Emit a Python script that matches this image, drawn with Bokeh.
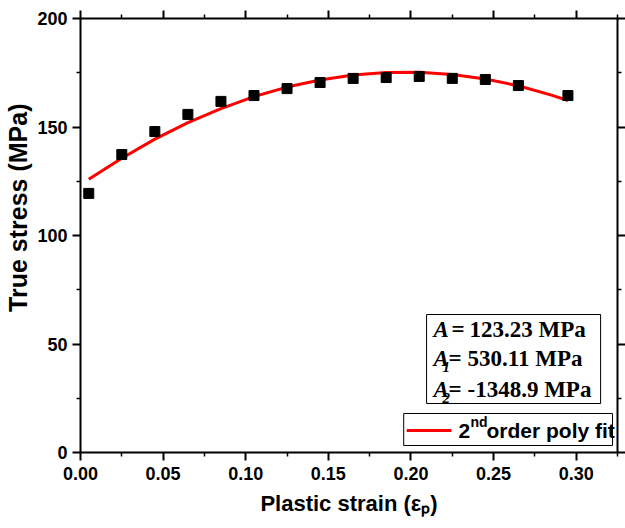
from bokeh.plotting import figure
from bokeh.models import LinearAxis, Label, Range1d, FixedTicker, NumeralTickFormatter
from bokeh.embed import file_html
from bokeh.resources import INLINE

# ---- data ----
strain = [0.005, 0.025, 0.045, 0.065, 0.085, 0.105, 0.125, 0.145, 0.165,
          0.185, 0.205, 0.225, 0.245, 0.265, 0.295]
stress = [119.4, 137.3, 147.9, 155.8, 161.8, 164.5, 167.7, 170.5, 172.4,
          172.8, 173.3, 172.4, 171.9, 169.1, 164.5]
fit_strain = [0.005, 0.025, 0.045, 0.065, 0.085, 0.105, 0.125, 0.145, 0.165,
              0.185, 0.205, 0.225, 0.245, 0.265, 0.285, 0.295]
fit_stress = [125.9, 135.6, 144.4, 152.0, 158.5, 164.0, 168.4, 171.7, 174.0,
              175.1, 175.2, 174.2, 172.1, 169.0, 164.7, 162.2]
x_ticks = [0.00, 0.05, 0.10, 0.15, 0.20, 0.25, 0.30]
x_minor = [0.025, 0.075, 0.125, 0.175, 0.225, 0.275, 0.325]
y_ticks = [0, 50, 100, 150, 200]
y_minor = [25, 75, 125, 175]
param_values = ["123.23 MPa", "530.11 MPa", "-1348.9 MPa"]
param_subs = ["", "1", "2"]
x_title = "Plastic strain (\u03b5\u209a)"
y_title = "\u00a0" * 8 + "True stress (MPa)"

X0, X1, Y0, Y1 = 0.0, 0.325, 0.0, 200.0
FL, FR, FT, FB = 80, 620, 18, 452

p = figure(width=625, height=528, output_backend="svg", toolbar_location=None,
           x_range=Range1d(X0, X1), y_range=Range1d(Y0, Y1),
           min_border_left=FL, min_border_right=625 - FR,
           min_border_top=FT, min_border_bottom=528 - FB,
           x_axis_location=None, y_axis_location=None)
p.outline_line_color = None
p.grid.visible = False
p.background_fill_color = "white"
p.border_fill_color = "white"


def style(ax, labels=True):
    ax.axis_line_width = 2
    ax.axis_line_color = "black"
    ax.major_tick_line_width = 2
    ax.minor_tick_line_width = 1.5
    ax.major_tick_in = 0
    ax.major_tick_out = 8
    ax.minor_tick_in = 0
    ax.minor_tick_out = 4
    ax.major_label_text_font = "Liberation Sans"
    ax.major_label_text_font_style = "bold"
    ax.major_label_text_font_size = "18px" if labels else "0px"
    ax.major_label_text_color = "black"
    ax.axis_label_text_font = "Liberation Sans"
    ax.axis_label_text_font_style = "bold"
    ax.axis_label_text_color = "black"


xt = FixedTicker(ticks=x_ticks, minor_ticks=x_minor)
yt = FixedTicker(ticks=y_ticks, minor_ticks=y_minor)

bottom = LinearAxis(ticker=xt, formatter=NumeralTickFormatter(format="0.00"),
                    axis_label=x_title)
style(bottom)
bottom.major_label_standoff = 6
bottom.axis_label_text_font_size = "22px"
bottom.axis_label_standoff = 8
left = LinearAxis(ticker=yt, axis_label=y_title)
style(left)
left.major_label_standoff = 5
left.axis_label_text_font_size = "25px"
left.axis_label_standoff = 2
top = LinearAxis(ticker=xt)
style(top, labels=False)
top.major_label_overrides = {t: "" for t in x_ticks}
right = LinearAxis(ticker=yt)
style(right, labels=False)
right.major_label_overrides = {t: "" for t in y_ticks}
p.add_layout(bottom, "below")
p.add_layout(left, "left")
p.add_layout(top, "above")
p.add_layout(right, "right")

# fit line and data
p.line(fit_strain, fit_stress, line_color="#ff0000", line_width=3)
p.scatter(strain, stress, marker="square", size=10, fill_color="black", line_color="black")


def dx(px):
    return X0 + (px - FL) / (FR - FL) * (X1 - X0)


def dy(py):
    return Y0 + (FB - py) / (FB - FT) * (Y1 - Y0)


def clabel(x, y, text, font="Liberation Sans", style="bold", size=20):
    p.add_layout(Label(x=x, y=y, x_units="canvas", y_units="canvas", text=text,
                       text_font=font, text_font_style=style,
                       text_font_size=f"{size}px", text_align="left",
                       text_baseline="middle", text_color="black"))


# parameter box
p.quad(left=[dx(428)], right=[dx(603)], top=[dy(314)], bottom=[dy(403)],
       fill_color="white", line_color="black", line_width=1)
mid_y = [329, 358, 389]
val_x = [469, 467, 467]
for sub, val, my, vx in zip(param_subs, param_values, mid_y, val_x):
    clabel(433, my, "A", font="Liberation Serif", style="bold italic", size=23)
    if sub:
        clabel(442, my + 8, sub, font="Liberation Serif", style="bold italic", size=15)
        clabel(448, my, "=", font="Liberation Serif", style="bold", size=23)
    else:
        clabel(451, my, "=", font="Liberation Serif", style="bold", size=23)
    clabel(vx, my, val, font="Liberation Serif", style="bold", size=23)

# legend box
p.quad(left=[dx(405)], right=[dx(615)], top=[dy(413)], bottom=[dy(445)],
       fill_color="white", line_color="black", line_width=1)
p.line([dx(408), dx(453)], [dy(430), dy(430)], line_color="#ff0000", line_width=3)
clabel(458, 430, "2", size=21)
clabel(470, 421, "nd", size=14)
clabel(486, 430, "order poly fit", size=21)

open("out.html", "w").write(file_html(p, INLINE))
